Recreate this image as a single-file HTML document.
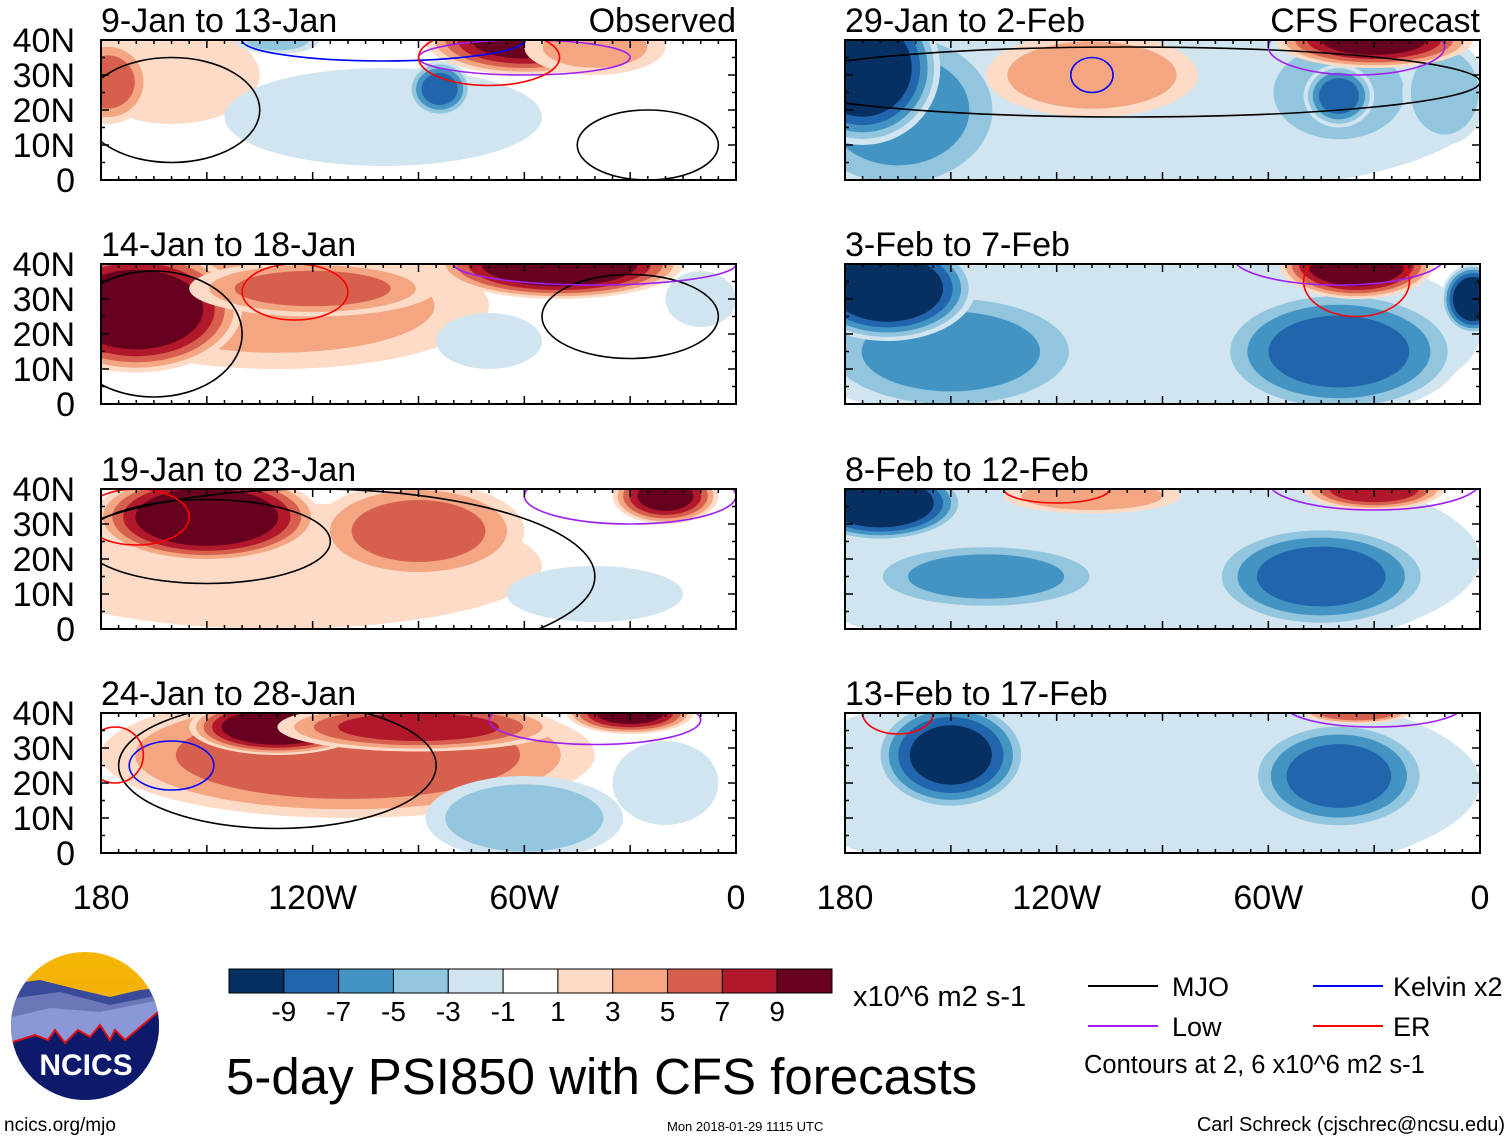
<!DOCTYPE html>
<html><head><meta charset="utf-8"><style>
html,body{margin:0;padding:0;background:#fff;}
svg{display:block;font-family:"Liberation Sans",Arial,sans-serif;}
</style></head><body>
<svg id="fig" width="1510" height="1141" viewBox="0 0 1510 1141" xmlns="http://www.w3.org/2000/svg">
<defs>
<linearGradient id="sky" x1="0" y1="0" x2="0" y2="1"><stop offset="0" stop-color="#f5b800"/><stop offset="1" stop-color="#f0a020"/></linearGradient>
<clipPath id="logoclip"><circle cx="85" cy="1026" r="74"/></clipPath>
</defs>
<g id="panels"></g>
<g id="colorbar"></g>
<text x="853" y="1006" font-size="29">x10^6 m2 s-1</text>
<text x="226" y="1094" font-size="51">5-day PSI850 with CFS forecasts</text>
<g>
<line x1="1088" y1="986" x2="1158" y2="986" stroke="#000" stroke-width="2"/>
<text x="1172" y="996" font-size="27">MJO</text>
<line x1="1088" y1="1026" x2="1158" y2="1026" stroke="#a020f0" stroke-width="2"/>
<text x="1172" y="1036" font-size="27">Low</text>
<line x1="1313" y1="986" x2="1383" y2="986" stroke="#0000ff" stroke-width="2"/>
<text x="1393" y="996" font-size="27">Kelvin x2</text>
<line x1="1313" y1="1026" x2="1383" y2="1026" stroke="#ff0000" stroke-width="2"/>
<text x="1393" y="1036" font-size="27">ER</text>
<text x="1084" y="1073" font-size="25.5">Contours at 2, 6 x10^6 m2 s-1</text>
</g>
<g>
<g clip-path="url(#logoclip)">
<rect x="0" y="940" width="180" height="180" fill="url(#sky)"/>
<path d="M0,985 L40,980 L80,990 L110,997 L140,990 L180,985 L180,1120 L0,1120Z" fill="#3a4a9a"/>
<path d="M0,1000 L60,992 L110,1005 L160,995 L180,995 L180,1120 L0,1120Z" fill="#6a78b8"/>
<path d="M0,1020 L50,1008 L100,1012 L150,1002 L180,998 L180,1120 L0,1120Z" fill="#8a98d8"/>
<path d="M0,1046 L35,1035 L48,1040 L55,1030 L65,1043 L78,1030 L90,1037 L100,1025 L110,1040 L115,1030 L125,1040 L158,1012 L180,1005 L180,1120 L0,1120Z" fill="#0d1a6b" stroke="#e01010" stroke-width="2"/>
</g>
<text x="86" y="1075" font-size="30" font-weight="bold" fill="#fff" text-anchor="middle">NCICS</text>
</g>
<text x="4" y="1131" font-size="19">ncics.org/mjo</text>
<text x="667" y="1131" font-size="13">Mon 2018-01-29 1115 UTC</text>
<text x="1505" y="1131" font-size="20" text-anchor="end">Carl Schreck (cjschrec@ncsu.edu)</text>
</svg>
<script>
// Colorbar data
const cbColors = ['#053061','#2166ac','#4393c3','#92c5de','#d1e5f0','#ffffff','#fddbc7','#f4a582','#d6604d','#b2182b','#67001f'];
const cbLabels = ['-9','-7','-5','-3','-1','1','3','5','7','9'];
// Panel titles
const panelTitles = ['9-Jan to 13-Jan','14-Jan to 18-Jan','19-Jan to 23-Jan','24-Jan to 28-Jan','29-Jan to 2-Feb','3-Feb to 7-Feb','8-Feb to 12-Feb','13-Feb to 17-Feb'];
const latTicks = [0,10,20,30,40];
const latLabels = ['0','10N','20N','30N','40N'];
const lonTicks = [-180,-120,-60,0];
const lonLabels = ['180','120W','60W','0'];
// Anomaly blobs: [lon, lat, peak value, lon radius, lat radius]
const blobs1 = [[-160,30,3,25,14],[-178,28,6,12,12],[-100,18,-3,45,14],[-84,26,-8,9,8],[-130,40,-4,12,4],[-60,40,10,28,10],[-40,38,4,20,8]];
const blobs2 = [[-130,28,4,60,18],[-170,27,12,30,18],[-120,33,6,35,8],[-70,18,-3,15,8],[-50,40,12,35,10],[-10,30,-2,10,8]];
const blobs3 = [[-130,18,3,75,18],[-150,32,12,32,13],[-90,28,6,30,14],[-40,10,-2,25,8],[-20,38,10,15,8]];
const blobs4 = [[-110,28,7,70,18],[-130,36,12,25,8],[-90,36,8,40,7],[-60,10,-5,28,12],[-20,20,-3,15,12],[-30,40,10,18,6]];
const blobs5 = [[-100,20,-2,100,25],[-165,20,-6,32,25],[-175,32,-12,22,22],[-110,30,5,30,12],[-40,25,-4,25,18],[-40,24,-8,10,9],[-10,25,-5,12,15],[-30,40,10,28,8]];
const blobs6 = [[-100,20,-2,100,30],[-150,15,-6,40,18],[-168,33,-12,25,15],[-40,15,-8,35,18],[-35,40,12,22,10],[-2,30,-12,9,10]];
const blobs7 = [[-100,20,-2,100,30],[-140,15,-6,35,10],[-45,15,-8,32,15],[-170,36,-12,24,11],[-110,38,5,25,5],[-30,40,9,20,6]];
const blobs8 = [[-100,20,-2,100,30],[-150,28,-10,22,16],[-40,22,-8,26,16],[-35,40,7,15,3]];
// Contour lines (MJO black / Kelvin blue / Low purple / ER red): [lon, lat, lon radius, lat radius, type]
const lines1 = [[-160,20,25,15,'mjo'],[-25,10,20,10,'mjo'],[-60,35,30,5,'low'],[-100,40,40,6,'kelvin'],[-70,35,20,8,'er']];
const lines2 = [[-165,20,25,18,'mjo'],[-30,25,25,12,'mjo'],[-40,40,40,6,'low'],[-125,32,15,8,'er']];
const lines3 = [[-150,25,35,12,'mjo'],[-120,15,80,25,'mjo'],[-30,38,30,8,'low'],[-170,32,15,8,'er']];
const lines4 = [[-130,25,45,18,'mjo'],[-160,25,12,7,'kelvin'],[-40,38,30,7,'low'],[-176,28,8,8,'er']];
const lines5 = [[-100,28,100,10,'mjo'],[-35,38,25,8,'low'],[-110,30,6,5,'kelvin']];
const lines6 = [[-35,35,15,10,'er'],[-40,42,30,8,'low']];
const lines7 = [[-120,40,15,4,'er'],[-30,42,30,8,'low']];
const lines8 = [[-165,40,10,6,'er'],[-30,42,25,6,'low']];
const allBlobs = [blobs1,blobs2,blobs3,blobs4,blobs5,blobs6,blobs7,blobs8];
const allLines = [lines1,lines2,lines3,lines4,lines5,lines6,lines7,lines8];

const NS='http://www.w3.org/2000/svg';
const lineColors={mjo:'#000',kelvin:'#0000ff',low:'#a020f0',er:'#ff0000'};
const PW=635, PH=140;
const colX=[101,845], rowY=[40,264,489,713];
function mk(t,a,p){const e=document.createElementNS(NS,t);for(const k in a)e.setAttribute(k,a[k]);p.appendChild(e);return e;}
function colorIndex(level){const i = level>0 ? 5+Math.ceil(level/2) : 5-Math.ceil(-level/2); return Math.max(0,Math.min(10,i));}
const root=document.getElementById('panels');
for(let i=0;i<8;i++){
  const x0=colX[Math.floor(i/4)], y0=rowY[i%4];
  const xs=lon=>x0+(lon+180)/180*PW;
  const ys=lat=>y0+PH-lat/40*PH;
  const g=mk('g',{},root);
  
  
  const cp=mk('clipPath',{id:'cp'+i},g);
  mk('rect',{x:x0,y:y0,width:PW,height:PH},cp);
  const field=mk('g',{'clip-path':'url(#cp'+i+')'},g);
  mk('rect',{x:x0,y:y0,width:PW,height:PH,fill:'#fff'},field);
  allBlobs[i].forEach(b=>{
    const [lon,lat,p,rx,ry]=b; const a=Math.abs(p), sg=Math.sign(p);
    for(let k=1;k<a && k<=9;k+=2){
      const s=Math.sqrt(1-(k-1)/a*0.9);
      const el=mk('ellipse',{cx:xs(lon),cy:ys(lat),rx:rx*s/180*PW,ry:ry*s/40*PH,fill:cbColors[colorIndex(sg*k)]},field);
      
      
    }
  });
  allLines[i].forEach(l=>{
    const el=mk('ellipse',{cx:xs(l[0]),cy:ys(l[1]),rx:l[2]/180*PW,ry:l[3]/40*PH,fill:'none',stroke:lineColors[l[4]],'stroke-width':1.6},field);
    
    
  });
  const fr=mk('rect',{x:x0,y:y0,width:PW,height:PH,fill:'none',stroke:'#000','stroke-width':2},g);
  
  
  for(let lon=-180;lon<=0;lon+=5){
    const len=lon%30===0?8:4;
    mk('line',{x1:xs(lon),y1:y0,x2:xs(lon),y2:y0+len,stroke:'#000','stroke-width':1.5},g);
    mk('line',{x1:xs(lon),y1:y0+PH,x2:xs(lon),y2:y0+PH-len,stroke:'#000','stroke-width':1.5},g);
  }
  for(let lat=0;lat<=40;lat+=5){
    const len=lat%10===0?8:4;
    mk('line',{x1:x0,y1:ys(lat),x2:x0+len,y2:ys(lat),stroke:'#000','stroke-width':1.5},g);
    mk('line',{x1:x0+PW,y1:ys(lat),x2:x0+PW-len,y2:ys(lat),stroke:'#000','stroke-width':1.5},g);
  }
  const t=mk('text',{x:x0,y:y0-8,'font-size':34},g);
  t.textContent=panelTitles[i];
  
  
  if(i===0||i===4){
    const r=mk('text',{x:x0+PW,y:y0-8,'font-size':34,'text-anchor':'end'},g);
    r.textContent=i===0?'Observed':'CFS Forecast';
    
    
  }
  if(i<4){
    latTicks.forEach((lat,j)=>{
      const tl=mk('text',{x:75,y:ys(lat)+12,'font-size':34,'text-anchor':'end'},g);
      tl.textContent=latLabels[j];
      
      
    });
  }
  if(i%4===3){
    lonTicks.forEach((lon,j)=>{
      const tl=mk('text',{x:xs(lon),y:909,'font-size':34,'text-anchor':'middle'},g);
      tl.textContent=lonLabels[j];
      
      
    });
  }
}
const cb=document.getElementById('colorbar');
const cbx=229, cbw=603/cbColors.length;
cbColors.forEach((c,j)=>{
  const r=mk('rect',{x:cbx+j*cbw,y:969,width:cbw,height:24,fill:c,stroke:'#000','stroke-width':1},cb);
  
  
});
cbLabels.forEach((l,j)=>{
  const t=mk('text',{x:cbx+(j+1)*cbw,y:1021,'font-size':28,'text-anchor':'middle'},cb);
  t.textContent=l;
  
  
});
</script>
</body></html>
